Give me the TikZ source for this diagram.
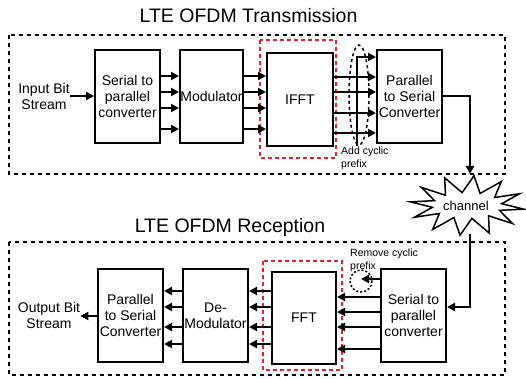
\documentclass[tikz,border=0pt]{standalone}
\usepackage{fontspec}
\setmainfont{Liberation Sans}
\usetikzlibrary{arrows.meta}
\definecolor{redd}{HTML}{E8202A}
\tikzset{
  blk/.style={draw, line width=2pt, minimum width=65pt, minimum height=93pt, inner sep=0pt, align=center, font=\fontsize{14}{16}\selectfont},
  arr/.style={line width=2pt, -{Triangle[length=8pt,width=8pt]}},
  outerbox/.style={draw, line width=2pt, dash pattern=on 4pt off 4pt},
  redbox/.style={draw=redd, line width=2pt, dash pattern=on 4pt off 3pt},
  ttl/.style={font=\fontsize{19.5}{22}\selectfont, anchor=base, inner sep=0pt},
  lbl/.style={font=\fontsize{14}{16}\selectfont, align=center, inner sep=0pt},
  small/.style={font=\fontsize{10.5}{13}\selectfont, align=left, inner sep=0pt, anchor=north west},
}
\begin{document}
\begin{tikzpicture}[x=1pt,y=-1pt]
\useasboundingbox (0,0) rectangle (526,379);
% titles
\node[ttl] (t1) at (248.5,23) {LTE OFDM Transmission};
\node[ttl] (t2) at (230,232) {LTE OFDM Reception};
% outer boxes
\draw[outerbox] (9,35) rectangle (505,174);
\draw[outerbox] (9,242) rectangle (505,375);
% red boxes
\draw[redbox] (260,40) rectangle (336,158);
\draw[redbox] (263,261) rectangle (342,370);
% top blocks
\node[blk] (sp1) at (127.5,96.5) {Serial to\\parallel\\converter};
\node[blk, minimum width=63pt] (mod1) at (211.5,96.5) {Modulator};
\node[blk, minimum width=66pt] (ifft) at (300,99.5) {IFFT};
\node[blk] (ps1) at (409.5,96.5) {Parallel\\to Serial\\Converter};
\node[lbl] (in) at (44,96) {Input Bit\\Stream};
% bottom blocks
\node[blk] (ps2) at (130.5,315.5) {Parallel\\to Serial\\Converter};
\node[blk] (dem) at (215.5,315.5) {De-\\Modulator};
\node[blk, minimum width=64pt, minimum height=92pt] (fft) at (304,318) {FFT};
\node[blk] (sp2) at (413.5,315.5) {Serial to\\parallel\\converter};
\node[lbl] (out) at (49,315) {Output Bit\\Stream};
% channel
\draw[line width=1.5pt, fill=white] plot[samples at={0,...,23}, variable=\k]
  ({467+(ifthenelse(mod(\k,2)==0,57,35))*cos(\k*15+7)},
   {205.5+(ifthenelse(mod(\k,2)==0,30,13))*sin(\k*15+7)}) -- cycle;
\node[font=\fontsize{13}{15}\selectfont, inner sep=1pt] (ch) at (466,206) {channel};
% labels
\node[small] (add) at (341,147) {Add cyclic\\prefix};
\node[small] (rem) at (350,249) {Remove cyclic\\prefix};
% top arrows
\draw[arr] (in.east) -- (sp1.west |- in.east);
\foreach \y in {76,92,108,129} {
  \draw[arr] (sp1.east |- 0,\y) -- (mod1.west |- 0,\y);
  \draw[arr] (mod1.east |- 0,\y) -- (ifft.west |- 0,\y);
}
\foreach \y in {77,92,113,133} {
  \draw[arr] (ifft.east |- 0,\y) -- (ps1.west |- 0,\y);
}
\coordinate (cp) at (357,146);
\draw[arr] (cp) |- (ps1.west |- 0,57);
\draw[line width=1.5pt, dash pattern=on 3pt off 3pt] (359,95) ellipse [x radius=10, y radius=50];
% channel links
\coordinate (chin) at (470,174);
\coordinate (chout) at (470,234);
\draw[arr] (ps1.east) -| (chin);
\draw[arr] (chout) |- (sp2.east |- 0,307);
% bottom arrows
\foreach \y in {297,312,327,349} {
  \draw[arr] (sp2.west |- 0,\y) -- (fft.east |- 0,\y);
}
\foreach \y in {291,307,327,344} {
  \draw[arr] (fft.west |- 0,\y) -- (dem.east |- 0,\y);
  \draw[arr] (dem.west |- 0,\y) -- (ps2.east |- 0,\y);
}
\coordinate (rcp) at (361,279);
\draw[arr] (sp2.west |- 0,279) -- (rcp);
\draw[line width=1.5pt, dash pattern=on 2pt off 2pt] (361,281) circle [radius=11];
\draw[arr] (ps2.west |- 0,316) -- (out.east |- 0,316);
\end{tikzpicture}
\end{document}
